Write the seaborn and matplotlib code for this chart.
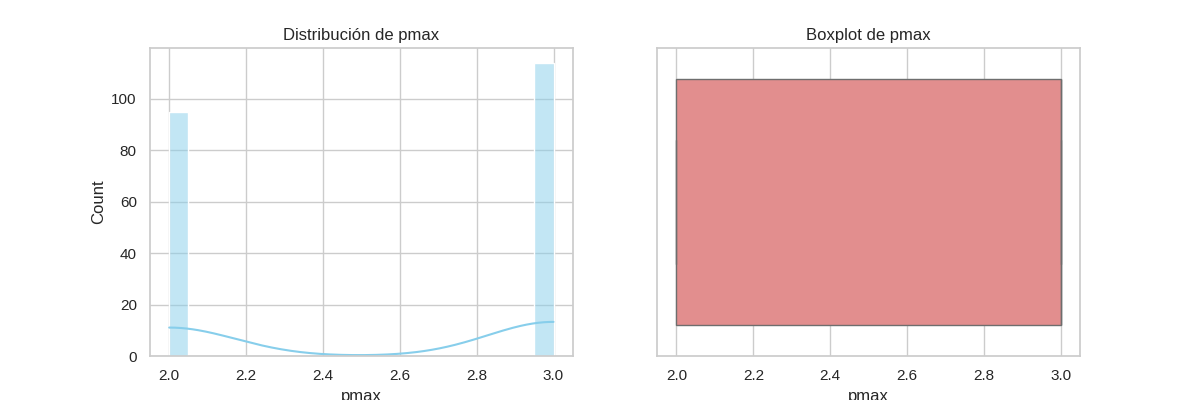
import numpy as np
import pandas as pd
import matplotlib
import matplotlib.pyplot as plt
import seaborn as sns

matplotlib.use('Agg')

# pmax values and how many rows have each value
pmax_values = [2.0, 3.0]
pmax_counts = [95, 114]

df = pd.DataFrame({'pmax': np.repeat(pmax_values, pmax_counts)})

sns.set_theme(style='whitegrid')
plt.rcParams['font.family'] = ['Liberation Sans', 'DejaVu Sans']

fig, axes = plt.subplots(1, 2, figsize=(12, 4))

sns.histplot(df['pmax'], bins=20, kde=True, color='skyblue', ax=axes[0])
axes[0].set_title('Distribución de pmax')

sns.boxplot(x=df['pmax'], color='lightcoral', ax=axes[1])
axes[1].set_title('Boxplot de pmax')

plt.savefig('out.png', dpi=100)
plt.close()
